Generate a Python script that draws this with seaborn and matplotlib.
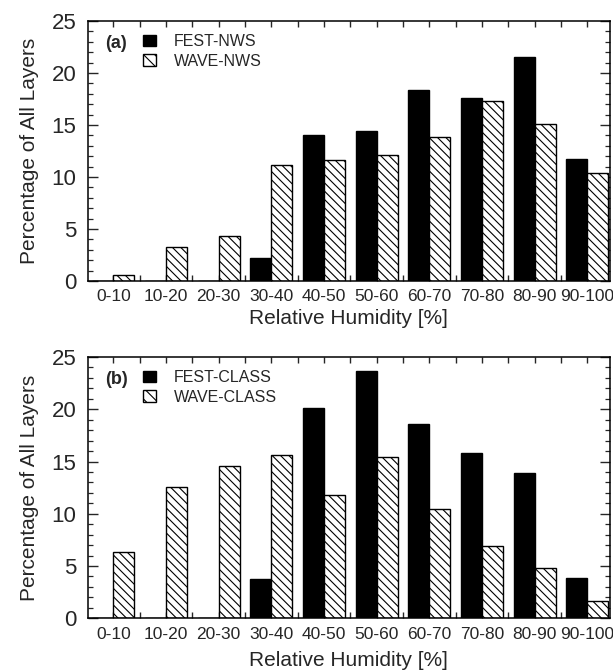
import numpy as np
import pandas as pd
import matplotlib
matplotlib.use("Agg")
import matplotlib.pyplot as plt
from matplotlib.patches import Patch
from matplotlib.ticker import MultipleLocator, FixedLocator
import seaborn as sns

# ---- data ----
categories = ['0-10', '10-20', '20-30', '30-40', '40-50',
              '50-60', '60-70', '70-80', '80-90', '90-100']
fest_nws = [0, 0, 0, 2.2, 14.0, 14.4, 18.4, 17.6, 21.5, 11.7]
wave_nws = [0.6, 3.3, 4.3, 11.2, 11.6, 12.1, 13.8, 17.3, 15.1, 10.4]
fest_class = [0, 0, 0, 3.8, 20.1, 23.7, 18.6, 15.8, 13.9, 3.9]
wave_class = [6.3, 12.6, 14.6, 15.6, 11.8, 15.4, 10.5, 6.9, 4.8, 1.7]
y_ticks = [0, 5, 10, 15, 20, 25]

sns.set_theme(style="ticks")
plt.rcParams['font.family'] = ['Liberation Sans', 'DejaVu Sans']
plt.rcParams['hatch.linewidth'] = 0.8
plt.rcParams['axes.linewidth'] = 1.1

HATCH = '\\\\\\\\'

fig = plt.figure(figsize=(6.13, 6.72), dpi=100, facecolor='white')
W, H = 613.0, 672.0
ax_a = fig.add_axes([87.5 / W, (H - 281) / H, 522 / W, 260 / H])
ax_b = fig.add_axes([87.5 / W, (H - 618.3) / H, 522 / W, 261.3 / H])


def panel(ax, fest, wave, fest_name, wave_name, tag, xlabelpad):
    df = pd.DataFrame({
        'rh': categories * 2,
        'pct': list(fest) + list(wave),
        'series': [fest_name] * len(categories) + [wave_name] * len(categories),
    })
    sns.barplot(data=df, x='rh', y='pct', hue='series', order=categories,
                hue_order=[fest_name, wave_name],
                palette={fest_name: 'black', wave_name: 'white'},
                saturation=1, width=0.8, gap=0, edgecolor='black',
                linewidth=1.0, errorbar=None, legend=False, ax=ax)
    for p in ax.patches:
        fc = p.get_facecolor()
        if fc[0] > 0.5:
            p.set_hatch(HATCH)
    ax.set_xlim(-0.49, 9.42)
    ax.set_ylim(0, 25)
    ax.set_yticks(y_ticks)
    ax.yaxis.set_minor_locator(MultipleLocator(1))
    ax.xaxis.set_minor_locator(FixedLocator(np.arange(0.5, 9.0, 1.0)))
    ax.tick_params(axis='y', which='major', direction='in', length=7, width=1,
                   left=True, right=True, labelsize=16, pad=8)
    ax.tick_params(axis='y', which='minor', direction='in', length=3.5, width=0.9,
                   left=True, right=True)
    ax.tick_params(axis='x', which='both', direction='in', length=4.5, width=1,
                   bottom=True, top=True, labelsize=12.5, pad=6)
    for s in ax.spines.values():
        s.set_visible(True)
        s.set_color('black')
    ax.set_xlabel('Relative Humidity [%]', fontsize=15, labelpad=xlabelpad)
    ax.set_ylabel('Percentage of All Layers', fontsize=15, labelpad=9)
    handles = [Patch(facecolor='black', edgecolor='black'),
               Patch(facecolor='white', edgecolor='black', hatch='\\\\\\')]
    ax.legend(handles=handles, labels=[fest_name, wave_name], loc='upper left',
              bbox_to_anchor=(0.106, 0.95), frameon=False, fontsize=11.5,
              handlelength=0.8, handleheight=0.75, handletextpad=1.15,
              labelspacing=0.3, borderaxespad=0, borderpad=0)
    ax.text(0.0335, 0.912, tag, transform=ax.transAxes, fontsize=13,
            fontweight='bold', va='center', ha='left')


panel(ax_a, fest_nws, wave_nws, 'FEST-NWS', 'WAVE-NWS', '(a)', 3)
panel(ax_b, fest_class, wave_class, 'FEST-CLASS', 'WAVE-CLASS', '(b)', 7)

fig.savefig('out.png', dpi=100, facecolor='white')
